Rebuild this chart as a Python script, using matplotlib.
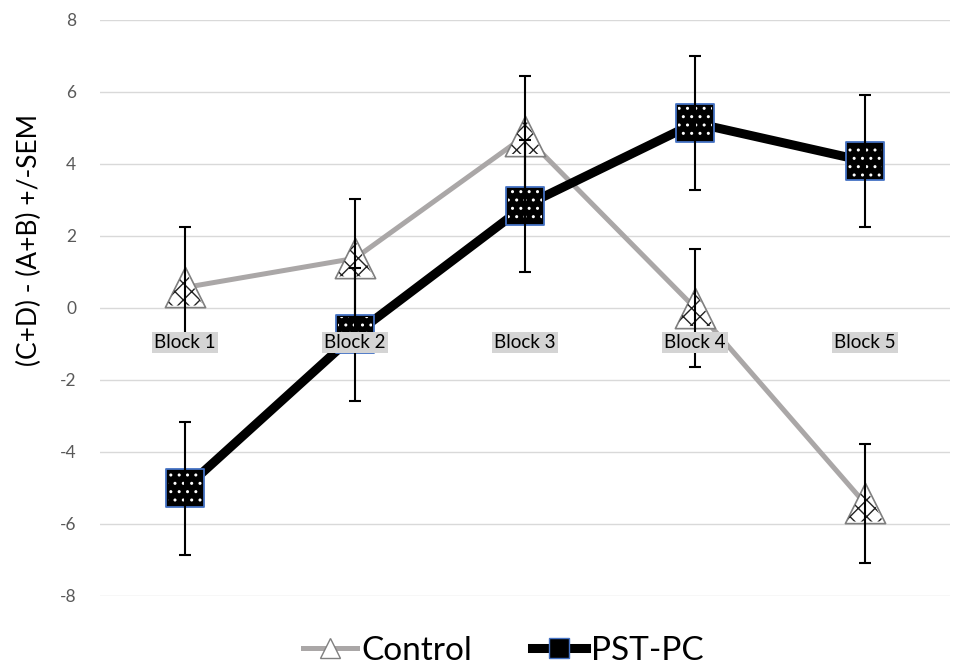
import matplotlib.pyplot as plt
from matplotlib.lines import Line2D

blocks = ["Block 1", "Block 2", "Block 3", "Block 4", "Block 5"]
control_mean = [0.57, 1.38, 4.78, 0.0, -5.43]
control_sem = [1.67, 1.65, 1.67, 1.64, 1.65]
pst_mean = [-5.01, -0.73, 2.84, 5.14, 4.08]
pst_sem = [1.85, 1.85, 1.84, 1.86, 1.83]
y_ticks = [-8, -6, -4, -2, 0, 2, 4, 6, 8]

plt.rcParams['font.family'] = ['Lato', 'DejaVu Sans']
plt.rcParams['axes.unicode_minus'] = False
plt.rcParams['hatch.linewidth'] = 1.0

gray = '#aaa7a7'
blue = '#4472c4'
ms = 27

fig = plt.figure(figsize=(9.55, 6.72), dpi=100)
ax = fig.add_axes([100 / 955, 76 / 672, 850 / 955, 576 / 672])

x = list(range(len(blocks)))

# lines
ax.plot(x, control_mean, color=gray, lw=3.6, zorder=2)
ax.plot(x, pst_mean, color='black', lw=6.5, zorder=3)

# control markers: white triangle with dotted cross hatch
ax.scatter(x, control_mean, marker='^', s=(ms + 2) ** 2, facecolor='white',
           edgecolor='#7f7f7f', linewidth=1.2, zorder=4)
ax.scatter(x, control_mean, marker='^', s=(ms - 1) ** 2, facecolor='none',
           edgecolor='#222222', hatch='xx', linewidth=0, zorder=4.1)

# pst-pc markers: black square, white dots, blue edge
ax.scatter(x, pst_mean, marker='s', s=ms ** 2, facecolor='black',
           edgecolor=blue, linewidth=1.3, zorder=5)
ax.scatter(x, pst_mean, marker='s', s=(ms - 2) ** 2, facecolor='none',
           edgecolor='white', hatch='..', linewidth=0, zorder=5.1)

# error bars
ax.errorbar(x, control_mean, yerr=control_sem, fmt='none', ecolor='black',
            elinewidth=1.5, capsize=4.5, capthick=1.5, zorder=6)
ax.errorbar(x, pst_mean, yerr=pst_sem, fmt='none', ecolor='black',
            elinewidth=1.5, capsize=4.5, capthick=1.5, zorder=6)

ax.set_xlim(-0.5, len(blocks) - 0.5)
ax.set_ylim(-8, 8)
ax.set_yticks(y_ticks)
ax.grid(axis='y', color='#d9d9d9', lw=1)
ax.set_axisbelow(True)
for s in ax.spines.values():
    s.set_visible(False)
ax.spines['bottom'].set_position(('data', 0))

ax.set_xticks(x, blocks)
ax.tick_params(axis='x', length=0, pad=19, labelsize=13.5, labelcolor='black')
ax.tick_params(axis='y', length=0, pad=17, labelsize=12.5, labelcolor='#595959')
for lbl in ax.get_xticklabels():
    lbl.set_bbox(dict(facecolor='#d4d4d4', edgecolor='none', pad=1.5))
ax.xaxis.set_zorder(10)

ax.set_ylabel("(C+D) - (A+B) +/-SEM", fontsize=19)
ax.yaxis.set_label_coords(-0.068, 0.618)

handles = [
    Line2D([], [], color=gray, lw=3.6, marker='^', ms=15, mfc='white', mec='#7f7f7f'),
    Line2D([], [], color='black', lw=6.5, marker='s', ms=15, mfc='black', mec=blue),
]
fig.legend(handles, ["Control", "PST-PC"], loc='lower center',
           bbox_to_anchor=(0.527, -0.035), ncol=2, frameon=False, fontsize=24,
           handlelength=1.6, columnspacing=1.8, handletextpad=0.15)

fig.savefig('out.png', dpi=100)
